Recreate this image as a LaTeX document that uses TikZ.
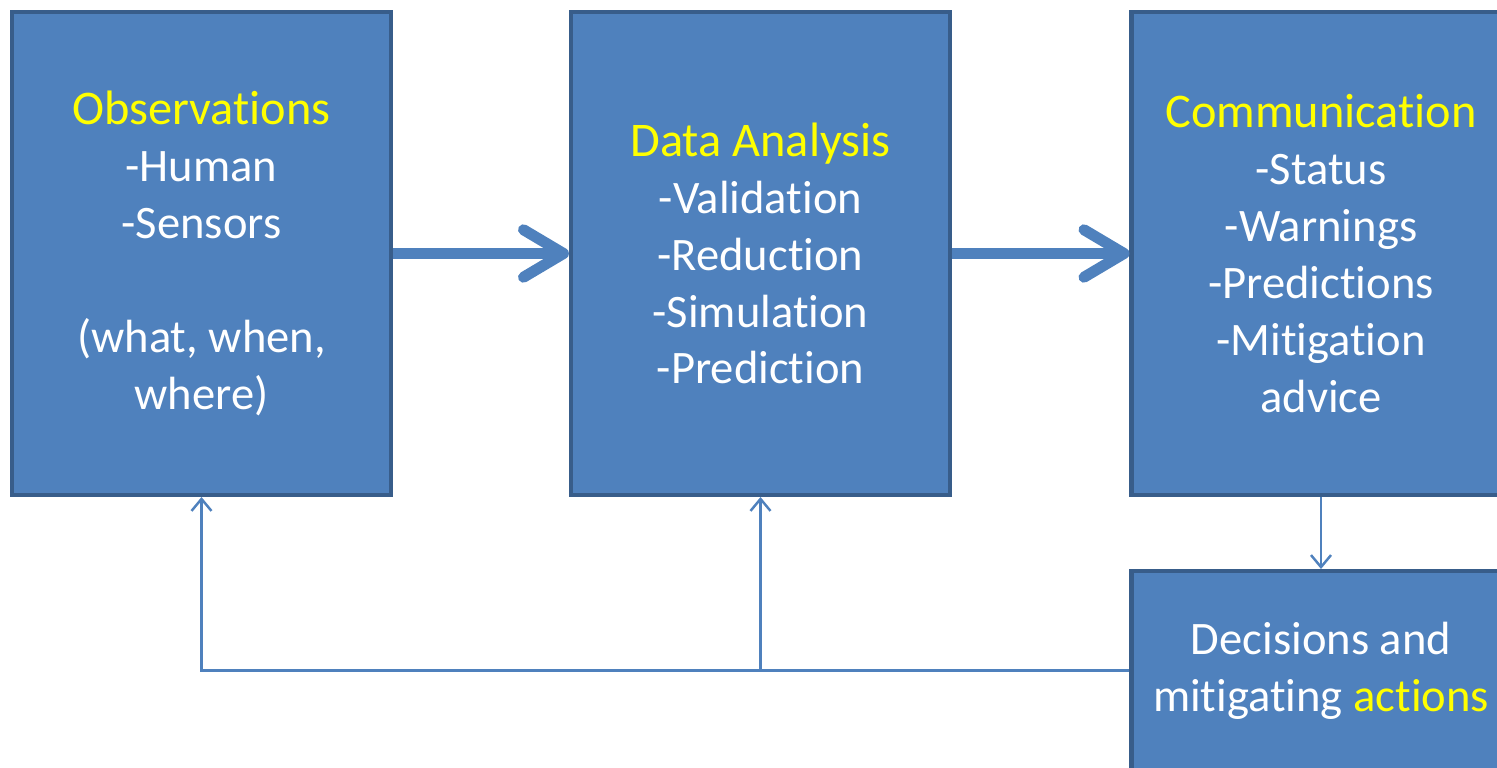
\documentclass[tikz,border=0pt]{standalone}
\usepackage{fontspec}
\setmainfont{Carlito}[Ligatures={NoCommon}]
\usetikzlibrary{arrows.meta}
\definecolor{boxblue}{HTML}{4F81BD}
\definecolor{boxedge}{HTML}{385D8A}
\definecolor{headyellow}{RGB}{255,255,0}
\newcommand{\head}[1]{{\color{headyellow}\fontsize{27.5}{32.4}\selectfont #1}}

\begin{document}
\begin{tikzpicture}[line width=2.3pt,
  block/.style={draw=boxedge,fill=boxblue,text=white,align=center,
    minimum width=7.58cm,minimum height=9.66cm,inner sep=0pt,
    font=\fontsize{26.5}{32.4}\selectfont},
  flow/.style={boxblue,line width=0.22cm,line cap=butt,
    -{Straight Barb[length=0.8cm,width=0.95cm,round]}},
  feedback/.style={boxblue,line width=1.4pt,-{Straight Barb[length=2.4mm,width=4mm]}}]
  \useasboundingbox (0,0) rectangle (29.94,15.36);
  \node[block] (obs) at (4.03,10.29) {\head{Observations}\\-Human\\-Sensors\\[32.4pt](what, when,\\where)};
  \node[block] (ana) at (15.21,10.29) {\head{Data Analysis}\\-Validation\\-Reduction\\-Simulation\\-Prediction};
  \node[block] (com) at (26.42,10.29) {\head{Communication}\\-Status\\-Warnings\\-Predictions\\-Mitigation\\advice};
  \node[block,minimum height=3.98cm] (dec) at (26.42,1.95) {Decisions and\\mitigating {\color{headyellow}actions}};
  \draw[flow] (obs.east) -- (ana.west);
  \draw[flow] (ana.east) -- (com.west);
  \draw[feedback] (com.south) -- (dec.north);
  \coordinate (split) at (ana.south |- dec.west);
  \draw[feedback] (dec.west) -- (split) -| (obs.south);
  \draw[feedback] (split) -- (ana.south);
\end{tikzpicture}
\end{document}
